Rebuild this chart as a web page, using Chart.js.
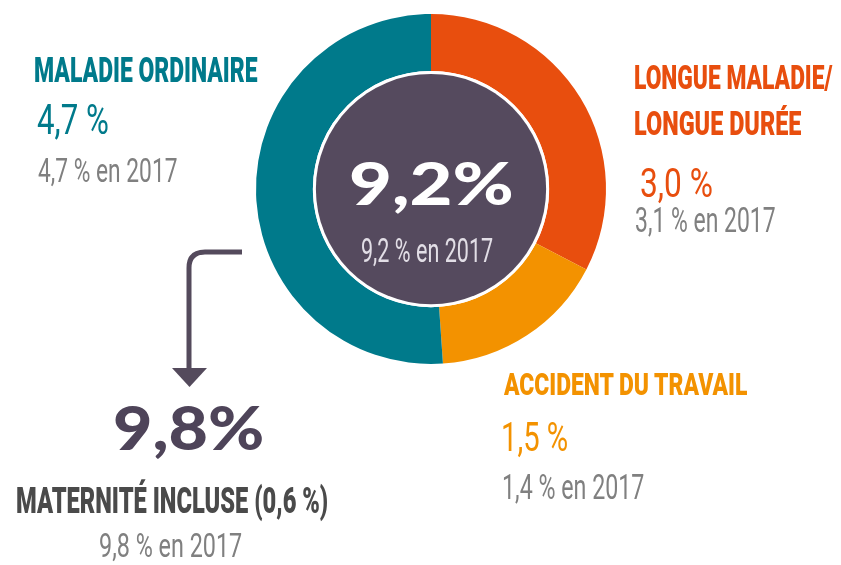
<!DOCTYPE html>
<html><head><meta charset="utf-8">
<script src="https://cdn.jsdelivr.net/npm/chart.js@4.4.1/dist/chart.umd.min.js"></script>
<style>
html,body{margin:0;padding:0;background:#fff;}
#wrap{position:relative;width:841px;height:565px;overflow:hidden;}
#c{position:absolute;left:0;top:0;}
#arrow{position:absolute;left:0;top:0;}
.lbl{position:absolute;white-space:pre;line-height:1;transform-origin:0 0;margin:0;padding:0;}
</style></head><body>
<div id="wrap">
<canvas id="c" width="841" height="565"></canvas>
<svg id="arrow" width="841" height="565">
  <path d="M242 252 H205 Q189 252 189 268 V372" fill="none" stroke="#544A5C" stroke-width="5"/>
  <polygon points="172,368 207,368 189.5,387" fill="#544A5C"/>
</svg>
</div>
<script>
// ---- data ----
const categories = [['MALADIE ORDINAIRE'], ['LONGUE MALADIE/', 'LONGUE DURÉE'], ['ACCIDENT DU TRAVAIL']];
const rates2018 = [4.7, 3.0, 1.5];
const rates2017 = [4.7, 3.1, 1.4];
const ringOrder = [1, 2, 0]; // clockwise from top
const totalRate = 9.2;
const totalRate2017 = 9.2;
const maternityRate = 0.6;
const totalWithMaternity = 9.8;
const totalWithMaternity2017 = 9.8;

// ---- styles ----
const colors = ['#007A8B', '#E84E0E', '#F39200'];
const DARK = '#554A5E';
const GRAY = '#808080';
const COND = 'Roboto';
const GEO = 'Lato';

const fr = v => v.toFixed(1).replace('.', ',');

// ---- chart ----
const centerDisc = {
  id: 'centerDisc',
  afterDatasetsDraw(chart) {
    const arc = chart.getDatasetMeta(0).data[0];
    const p = arc.getProps(['x', 'y', 'innerRadius'], true);
    const ctx = chart.ctx;
    ctx.save();
    ctx.beginPath(); ctx.arc(p.x, p.y, p.innerRadius, 0, Math.PI * 2);
    ctx.fillStyle = '#ffffff'; ctx.fill();
    ctx.beginPath(); ctx.arc(p.x, p.y, p.innerRadius - 3, 0, Math.PI * 2);
    ctx.fillStyle = DARK; ctx.fill();
    ctx.restore();
  }
};

new Chart(document.getElementById('c'), {
  type: 'doughnut',
  data: {
    labels: ringOrder.map(i => categories[i].join(' ')),
    datasets: [{
      data: ringOrder.map(i => rates2018[i]),
      backgroundColor: ringOrder.map(i => colors[i]),
      borderWidth: 0,
      hoverOffset: 0
    }]
  },
  options: {
    responsive: false,
    animation: false,
    events: [],
    cutout: '67.5%',
    layout: { padding: { left: 256, right: 235, top: 14, bottom: 201 } },
    plugins: { legend: { display: false }, tooltip: { enabled: false } }
  },
  plugins: [centerDisc]
});

// ---- text labels (real DOM text) ----
const wrap = document.getElementById('wrap');
const mctx = document.createElement('canvas').getContext('2d');
function place(text, s) {
  const fam = s.family || COND;
  const wt = s.weight || 400;
  mctx.font = `${wt} 100px ${fam}`;
  const capRatio = mctx.measureText('H').actualBoundingBoxAscent / 100;
  const fs = s.capH / capRatio;
  const font = `${wt} ${fs}px ${fam}`;
  mctx.font = font;
  const m = mctx.measureText(text);
  const ink = m.actualBoundingBoxLeft + m.actualBoundingBoxRight;
  const sx = s.w / ink;
  const el = document.createElement('div');
  el.className = 'lbl';
  el.style.font = font;
  el.style.lineHeight = '1';
  el.style.color = s.color;
  const inner = document.createElement('span');
  inner.textContent = text;
  const mark = document.createElement('span');
  mark.style.cssText = 'display:inline-block;width:0;height:0;';
  el.append(inner, mark);
  wrap.appendChild(el);
  const off = mark.getBoundingClientRect().top - el.getBoundingClientRect().top;
  el.style.top = (s.base - off) + 'px';
  el.style.left = (s.x + m.actualBoundingBoxLeft * sx) + 'px';
  el.style.transform = `scaleX(${sx})`;
}

// Maladie ordinaire
place(categories[0][0], { x: 35, base: 82, capH: 25.5, w: 223, weight: 900, color: colors[0] });
place(fr(rates2018[0]) + ' %', { x: 38, base: 134, capH: 31, w: 70, color: colors[0] });
place(fr(rates2017[0]) + ' % en 2017', { x: 38, base: 182, capH: 24, w: 139, color: GRAY });
// Longue maladie
place(categories[1][0], { x: 635, base: 89, capH: 24, w: 198, weight: 900, color: colors[1] });
place(categories[1][1], { x: 635, base: 135, capH: 24, w: 167, weight: 900, color: colors[1] });
place(fr(rates2018[1]) + ' %', { x: 641, base: 197, capH: 29, w: 71, color: colors[1] });
place(fr(rates2017[1]) + ' % en 2017', { x: 636, base: 232, capH: 25, w: 139, color: GRAY });
// Accident du travail
place(categories[2][0], { x: 503, base: 395, capH: 22, w: 245, weight: 900, color: colors[2] });
place(fr(rates2018[2]) + ' %', { x: 503, base: 451, capH: 29, w: 64, color: colors[2] });
place(fr(rates2017[2]) + ' % en 2017', { x: 503, base: 499, capH: 25, w: 140, color: GRAY });
// Center
place(fr(totalRate) + '%', { x: 352, base: 205, capH: 43, w: 160, weight: 900, family: GEO, color: '#FFFFFF' });
place(fr(totalRate2017) + ' % en 2017', { x: 362, base: 262, capH: 24, w: 131, color: '#E2DEE6' });
// Maternité incluse
place(fr(totalWithMaternity) + '%', { x: 115, base: 450, capH: 45, w: 147, weight: 900, family: GEO, color: '#4E4459' });
place('MATERNITÉ INCLUSE (' + fr(maternityRate) + ' %)', { x: 17, base: 513, capH: 26, w: 311, weight: 900, color: '#4A4A4A' });
place(fr(totalWithMaternity2017) + ' % en 2017', { x: 100, base: 557, capH: 24, w: 142, color: GRAY });
</script>
</body></html>
